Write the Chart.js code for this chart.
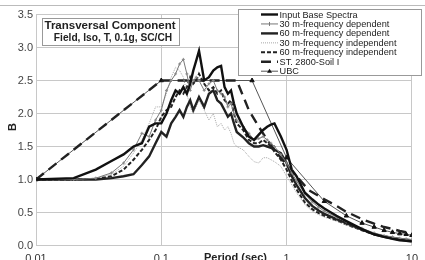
<!DOCTYPE html>
<html>
<head>
<meta charset="utf-8">
<script src="https://cdn.jsdelivr.net/npm/chart.js@4.4.1/dist/chart.umd.min.js"></script>
<style>
  html, body { margin: 0; padding: 0; background: #fff; overflow: hidden; }
  #wrap { width: 425px; height: 270px; }
</style>
</head>
<body>
<div id="wrap"><canvas id="chart" width="425" height="270"></canvas></div>
<script>
// periods (sec) shared by the computed spectra
const periods = [0.01,0.02,0.03,0.04,0.05,0.06,0.07,0.08,0.09,0.1,
  0.11,0.12,0.13,0.14,0.15,0.16,0.17,0.18,0.19,0.2,
  0.22,0.24,0.26,0.28,0.3,0.32,0.34,0.36,0.38,0.4,
  0.45,0.5,0.55,0.6,0.65,0.7,0.75,0.8,0.9,1.0,
  1.1,1.2,1.4,1.6,1.8,2.0,2.5,3.0,4.0,5.0,
  6.0,7.0,8.0,9.0,10.0];

const inputBase = [1.00,1.02,1.15,1.28,1.38,1.50,1.55,1.80,1.85,1.85,
  2.00,2.20,2.35,2.30,2.40,2.30,2.45,2.65,2.80,2.95,
  2.50,2.55,2.65,2.70,2.72,2.40,2.30,2.35,2.15,2.00,
  1.80,1.65,1.60,1.68,1.75,1.80,1.83,1.85,1.65,1.45,
  1.15,1.05,0.80,0.70,0.62,0.56,0.45,0.37,0.25,0.17,
  0.13,0.10,0.08,0.07,0.06];

const dep30 = [1.00,1.00,1.02,1.10,1.25,1.45,1.70,1.65,1.90,2.05,
  2.35,2.50,2.60,2.75,2.82,2.60,2.35,2.50,2.55,2.50,
  2.35,2.45,2.50,2.35,2.30,2.25,2.10,2.15,2.00,1.90,
  1.80,1.70,1.60,1.62,1.65,1.60,1.55,1.50,1.38,1.25,
  1.10,0.98,0.78,0.66,0.58,0.52,0.43,0.36,0.26,0.19,
  0.15,0.13,0.11,0.10,0.09];

const dep60 = [1.00,1.00,1.00,1.02,1.05,1.08,1.22,1.35,1.55,1.72,
  1.65,1.85,1.95,2.05,1.95,2.10,2.20,2.05,2.15,2.25,
  2.10,2.30,2.35,2.20,2.15,2.05,1.95,2.00,1.85,1.72,
  1.64,1.55,1.50,1.50,1.52,1.50,1.48,1.45,1.40,1.25,
  1.05,0.92,0.72,0.60,0.53,0.48,0.40,0.34,0.24,0.17,
  0.13,0.11,0.09,0.08,0.07];

const indep30 = [1.00,1.00,1.02,1.08,1.20,1.40,1.60,1.85,2.10,2.10,
  2.30,2.55,2.70,2.65,2.55,2.30,2.10,2.00,2.10,2.20,
  2.05,1.90,2.00,1.80,1.85,1.75,1.80,1.70,1.55,1.50,
  1.45,1.35,1.27,1.25,1.33,1.33,1.30,1.27,1.20,1.05,
  0.92,0.80,0.62,0.52,0.47,0.43,0.37,0.31,0.23,0.17,
  0.14,0.12,0.11,0.10,0.09];

const indep60 = [1.00,1.00,1.01,1.05,1.15,1.30,1.45,1.60,1.75,1.95,
  2.05,2.10,2.25,2.35,2.30,2.40,2.55,2.45,2.50,2.60,
  2.45,2.35,2.40,2.30,2.35,2.20,2.15,2.20,2.00,1.85,
  1.75,1.60,1.55,1.55,1.60,1.55,1.50,1.42,1.30,1.15,
  0.98,0.85,0.65,0.55,0.49,0.45,0.38,0.32,0.23,0.17,
  0.14,0.12,0.10,0.09,0.08];

// design spectra
const st2800Periods = [0.01,0.1,0.4,0.5,0.6,0.7,0.8,1,1.5,2,2.5,3,4,5,6,7,8,9,10];
const st2800 = [1.0,2.5,2.5,2.05,1.8,1.6,1.45,1.22,0.84,0.7,0.6,0.51,0.4,0.33,0.28,0.25,0.22,0.2,0.18];

const ubcPeriods = [0.01,0.1,0.53,1,2,3,4,5,6,7,8,9,10];
const ubc = [1.0,2.5,2.5,1.33,0.67,0.45,0.34,0.28,0.23,0.2,0.18,0.17,0.155];

const xTicks = [0.01, 0.1, 1, 10];
const yTicks = [0, 0.5, 1, 1.5, 2, 2.5, 3, 3.5];

const seriesNames = [
  'Input Base Spectra',
  '30 m-frequency dependent',
  '60 m-frequency dependent',
  '30 m-frequency independent',
  '60 m-frequency independent',
  'ST. 2800-Soil I',
  'UBC'
];

const toPoints = (xs, ys) => xs.map((x, i) => ({ x: x, y: ys[i] }));

const datasets = [
  { label: seriesNames[0], data: toPoints(periods, inputBase),
    borderColor: '#111', borderWidth: 2.4, pointRadius: 0 },
  { label: seriesNames[1], data: toPoints(periods, dep30),
    borderColor: '#777', borderWidth: 1, pointRadius: 1.5, pointStyle: 'cross',
    pointBorderColor: '#888', pointBorderWidth: 1 },
  { label: seriesNames[2], data: toPoints(periods, dep60),
    borderColor: '#222', borderWidth: 2.4, pointRadius: 0 },
  { label: seriesNames[3], data: toPoints(periods, indep30),
    borderColor: '#a8a8a8', borderWidth: 1, borderDash: [1, 1], pointRadius: 0 },
  { label: seriesNames[4], data: toPoints(periods, indep60),
    borderColor: '#222', borderWidth: 2, borderDash: [4, 2], pointRadius: 0 },
  { label: seriesNames[5], data: toPoints(st2800Periods, st2800),
    borderColor: '#222', borderWidth: 2.4, borderDash: [10, 6], pointRadius: 0 },
  { label: seriesNames[6], data: toPoints(ubcPeriods, ubc),
    borderColor: '#555', borderWidth: 1, pointRadius: 2.5, pointStyle: 'triangle',
    pointBackgroundColor: '#111', pointBorderColor: '#111', pointBorderWidth: 1 }
];

// text boxes, legend and axis titles drawn over the plot
const overlay = {
  id: 'overlay',
  afterDraw(chart) {
    const ctx = chart.ctx;
    ctx.save();

    // chart frame
    ctx.strokeStyle = '#bbb';
    ctx.lineWidth = 1;
    ctx.beginPath();
    ctx.moveTo(0, 5.5);
    ctx.lineTo(425, 5.5);
    ctx.stroke();

    // title box
    ctx.fillStyle = '#fff';
    ctx.fillRect(42.5, 18.5, 137, 27);
    ctx.strokeStyle = '#999';
    ctx.strokeRect(42.5, 18.5, 137, 27);
    ctx.fillStyle = '#222';
    ctx.textAlign = 'center';
    ctx.textBaseline = 'middle';
    ctx.font = 'bold 11.5px "Liberation Sans", Arial, sans-serif';
    ctx.fillText('Transversal Component', 110, 25.5);
    ctx.font = 'bold 10.2px "Liberation Sans", Arial, sans-serif';
    ctx.fillText('Field, Iso, T, 0.1g, SC/CH', 113, 38.5);

    // legend box
    ctx.fillStyle = '#fff';
    ctx.fillRect(238.5, 9.5, 183, 66);
    ctx.strokeStyle = '#999';
    ctx.strokeRect(238.5, 9.5, 183, 66);
    ctx.font = '9.2px "Liberation Sans", Arial, sans-serif';
    ctx.textAlign = 'left';
    chart.data.datasets.forEach((ds, i) => {
      const y = 14.5 + i * 9.45;
      ctx.save();
      ctx.strokeStyle = ds.borderColor;
      ctx.lineWidth = ds.borderWidth;
      ctx.setLineDash(ds.borderDash || []);
      ctx.beginPath();
      ctx.moveTo(261, y);
      ctx.lineTo(278, y);
      ctx.stroke();
      ctx.setLineDash([]);
      if (ds.pointStyle === 'cross') {
        ctx.lineWidth = 1;
        ctx.beginPath();
        ctx.moveTo(269.5, y - 2); ctx.lineTo(269.5, y + 2);
        ctx.stroke();
      } else if (ds.pointStyle === 'triangle') {
        ctx.fillStyle = '#111';
        ctx.beginPath();
        ctx.moveTo(269.5, y - 2.5);
        ctx.lineTo(272, y + 1.5);
        ctx.lineTo(267, y + 1.5);
        ctx.closePath();
        ctx.fill();
      }
      ctx.restore();
      ctx.fillStyle = '#222';
      ctx.fillText(ds.label, 279.5, y + 0.5);
    });

    // axis titles
    ctx.fillStyle = '#222';
    ctx.font = 'bold 11px "Liberation Sans", Arial, sans-serif';
    ctx.textAlign = 'center';
    ctx.textBaseline = 'middle';
    ctx.fillText('Period (sec)', 235.5, 258);
    ctx.save();
    ctx.translate(13, 127);
    ctx.rotate(-Math.PI / 2);
    ctx.fillText('B', 0, 0);
    ctx.restore();

    ctx.restore();
  }
};

new Chart(document.getElementById('chart'), {
  type: 'line',
  data: { datasets: datasets },
  options: {
    responsive: false,
    animation: false,
    layout: { padding: { top: 14.5, right: 3.5, left: 0, bottom: 0 } },
    plugins: {
      legend: { display: false },
      tooltip: { enabled: false }
    },
    elements: { line: { tension: 0, fill: false } },
    scales: {
      x: {
        type: 'logarithmic',
        min: 0.01,
        max: 10,
        afterBuildTicks: scale => { scale.ticks = xTicks.map(v => ({ value: v })); },
        afterFit: scale => { scale.height = 24.5; },
        grid: { color: '#c8c8c8', lineWidth: 1, drawTicks: false },
        border: { color: '#c8c8c8' },
        ticks: {
          padding: 7,
          maxRotation: 0,
          autoSkip: false,
          color: '#333',
          font: { family: '"Liberation Sans", Arial, sans-serif', size: 11 },
          callback: v => String(v)
        }
      },
      y: {
        min: 0,
        max: 3.5,
        afterBuildTicks: scale => { scale.ticks = yTicks.map(v => ({ value: v })); },
        afterFit: scale => { scale.width = 36; },
        grid: { color: '#c8c8c8', lineWidth: 1, drawTicks: false },
        border: { color: '#c8c8c8' },
        ticks: {
          padding: 3,
          color: '#444',
          font: { family: '"Liberation Sans", Arial, sans-serif', size: 11 },
          callback: v => Number(v).toFixed(1)
        }
      }
    }
  },
  plugins: [overlay]
});
</script>
</body>
</html>
